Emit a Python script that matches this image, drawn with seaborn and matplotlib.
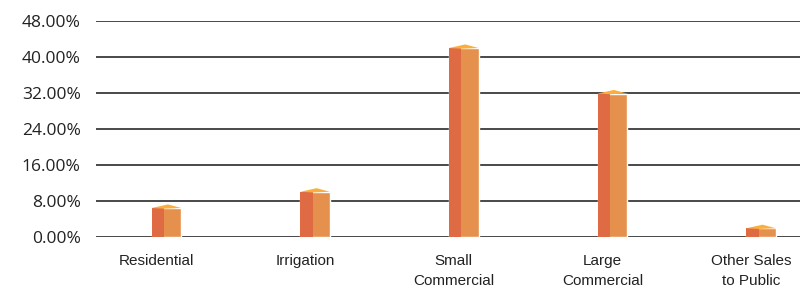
import pandas as pd
import matplotlib.pyplot as plt
import matplotlib.transforms as mtransforms
from matplotlib.patches import Polygon, Rectangle
import seaborn as sns

categories = ["Residential", "Irrigation", "Small\nCommercial", "Large\nCommercial", "Other Sales\nto Public"]
share = [6.5, 10.1, 42.0, 31.9, 2.0]
yticks = [0, 8, 16, 24, 32, 40, 48]

df = pd.DataFrame({"category": categories, "share": share})

sns.set_style("white")
plt.rcParams["font.family"] = ["Liberation Sans", "DejaVu Sans"]

fig = plt.figure(figsize=(8.08, 2.87), dpi=100)
ax = fig.add_axes([96 / 808, 1 - 237.3 / 287, 704 / 808, (237.3 - 21) / 287])

front = "#E5914D"
side = "#DF6B45"
top = "#FBAE3C"

sns.barplot(data=df, x="category", y="share", color=front, width=0.2,
            saturation=1, ax=ax, zorder=3)

# fake 3d look: darker left face and a thin top face
for p in ax.patches:
    x0 = p.get_x()
    w = p.get_width()
    h = p.get_height()
    xs = x0 + w * 0.42
    ax.add_patch(Rectangle((x0, 0), xs - x0, h, color=side, zorder=4, lw=0))
    d = 0.8
    ax.add_patch(Polygon([(x0, h), (xs, h - 0.15), (x0 + w, h),
                          (x0 + w * 0.55, h + d)], closed=True,
                         color=top, zorder=5, lw=0))

ax.set_ylim(0, 48)
ax.set_xlim(-0.474, 4.262)
ax.set_yticks(yticks)
ax.set_yticklabels([f"{v:.2f}%" for v in yticks], family=["Open Sans", "DejaVu Sans"],
                   fontsize=12.5, color="#222222")
ax.set_xticks(range(len(categories)))
ax.set_xticklabels(categories, linespacing=1.55, va="top")
ax.yaxis.grid(True, color="#2a2a2a", linewidth=1.2, zorder=1)
ax.tick_params(axis="y", length=0, pad=11)
ax.tick_params(axis="x", length=0, pad=12, labelsize=11, labelcolor="#222222")
ax.set_xlabel("")
ax.set_ylabel("")
sns.despine(ax=ax, left=True, bottom=True, top=True, right=True)

shift = mtransforms.ScaledTranslation(-10 / 100, 0, fig.dpi_scale_trans)
for lab in ax.get_xticklabels():
    lab.set_transform(lab.get_transform() + shift)

fig.savefig("out.png", dpi=100)
